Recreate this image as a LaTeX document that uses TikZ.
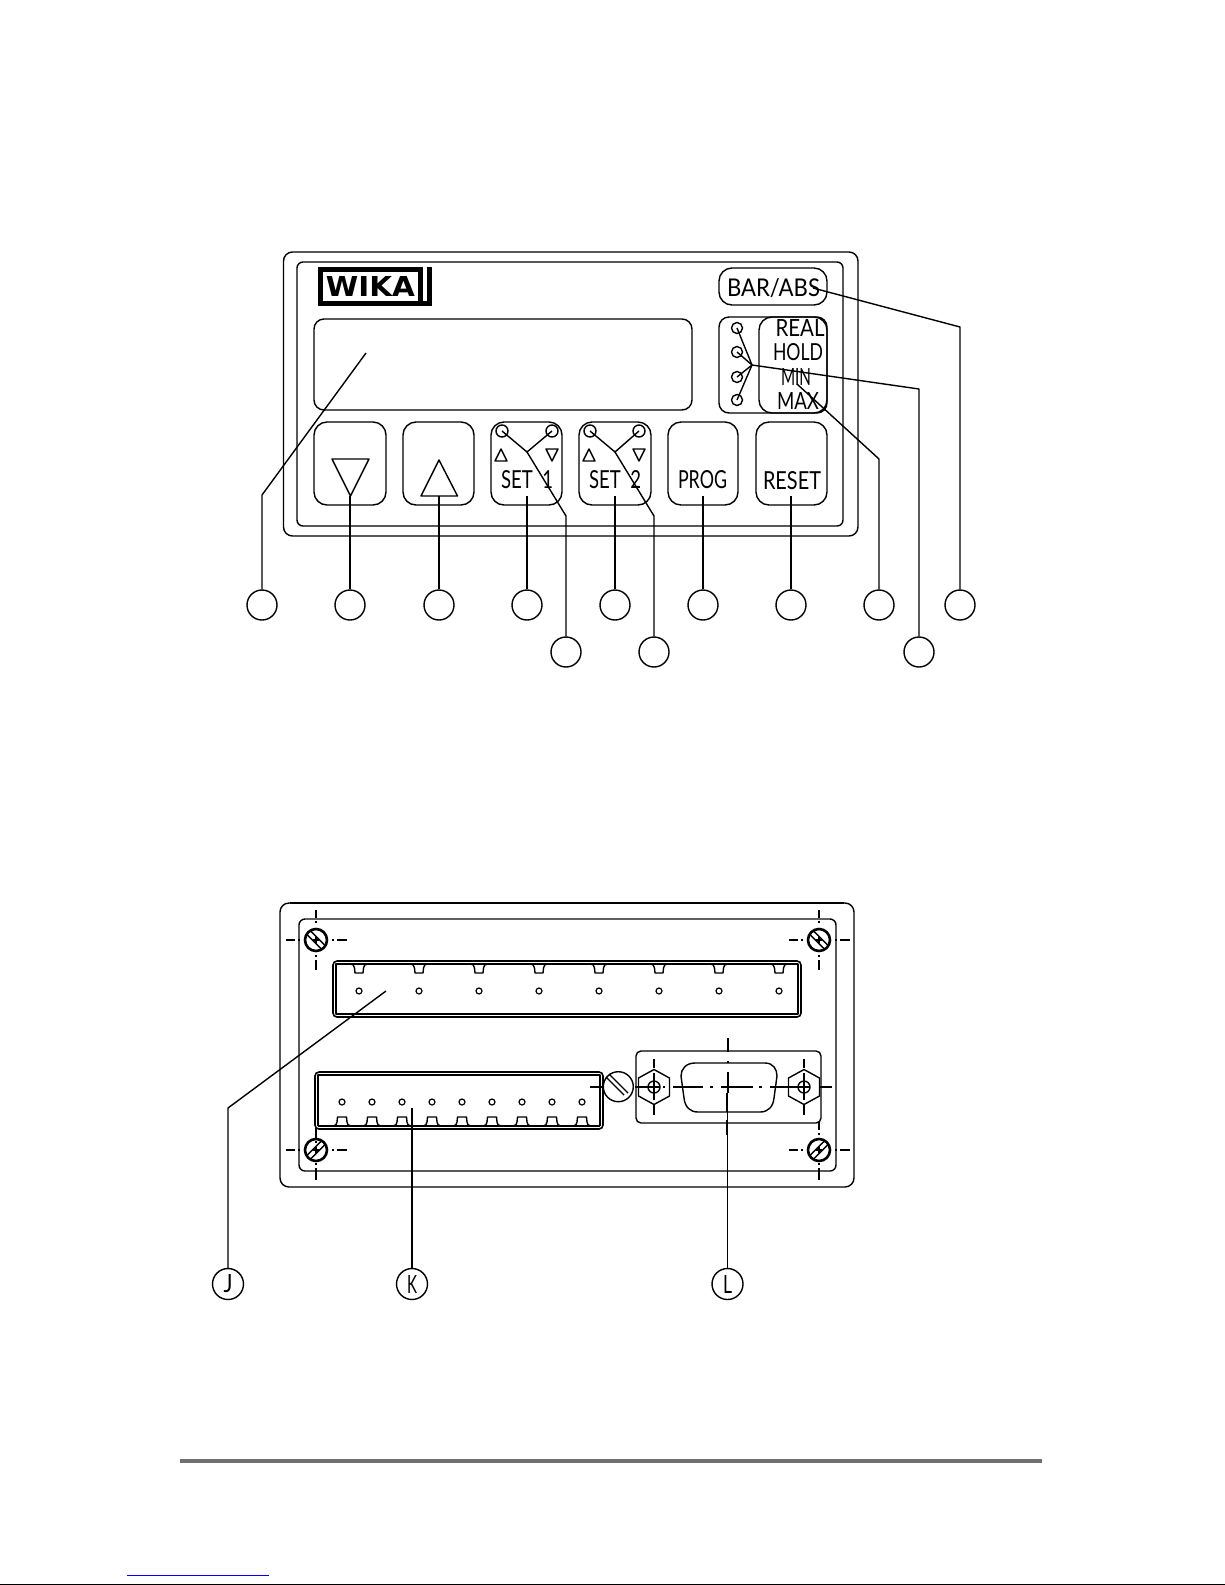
\documentclass[tikz,border=0pt]{standalone}
\usepackage{graphicx}
\usepackage{fontspec}
\setmainfont{Lato}
\newfontfamily\logofont{DejaVu Sans}
\definecolor{barg}{HTML}{707070}
\definecolor{topg}{HTML}{606060}
\tikzset{
  ln/.style={line width=1.4pt,line join=round},
  thin ln/.style={line width=1.1pt},
  thick ln/.style={line width=2.6pt},
  callout/.style={circle,draw,line width=1.4pt,minimum size=30pt,inner sep=0pt},
  lbl/.style={inner sep=0pt,outer sep=0pt},
  led/.style={circle,draw,line width=1.4pt,minimum size=11pt,inner sep=0pt},
  pin/.style={circle,draw,line width=1.2pt,minimum size=6pt,inner sep=0pt}
}
% name, x, y, width, height, text
\newcommand{\lab}[6]{\node[lbl] (#1) at (#2,#3) {\resizebox{#4pt}{#5pt}{#6}};}
% screw: x, y, slot sign, top-dash y1, y2, bottom-dash y1, y2
\newcommand{\screwmark}[7]{%
  \draw[thick ln] (#1,#2) circle (11);
  \draw[ln] (#1-8-1.8,#2-#3*8+#3*1.8) -- (#1+8-1.8,#2+#3*8+#3*1.8);
  \draw[ln] (#1-8+1.8,#2-#3*8-#3*1.8) -- (#1+8+1.8,#2+#3*8-#3*1.8);
  \draw[thin ln] (#1-30,#2) -- (#1-21,#2) (#1-18,#2) -- (#1-16,#2) (#1-3,#2) -- (#1+3,#2) (#1+16,#2) -- (#1+18,#2) (#1+21,#2) -- (#1+31,#2);
  \draw[thin ln] (#1,#4) -- (#1,#5) (#1,#5+3) -- (#1,#5+5) (#1,#2-3) -- (#1,#2+3) (#1,#6-5) -- (#1,#6-3) (#1,#6) -- (#1,#7);
}
% nut: x
\newcommand{\nutmark}[1]{%
  \draw[ln] (#1,1069.5) -- (#1+15.5,1078) -- (#1+15.5,1096) -- (#1,1104.5) -- (#1-15.5,1096) -- (#1-15.5,1078) -- cycle;
  \draw[ln] (#1,1087) circle (6);
  \draw[thin ln] (#1,1059) -- (#1,1068) (#1,1073) -- (#1,1100) (#1,1105) -- (#1,1115);
}
\begin{document}
\begin{tikzpicture}[x=1pt,y=-1pt]
\useasboundingbox (0,0) rectangle (1225,1585);
\fill[white] (0,0) rectangle (1225,1585);

%% ---------- front panel ----------
\draw[ln,rounded corners=9pt] (283.5,252) rectangle (858,536);
\draw[ln,rounded corners=6pt] (297,262) rectangle (843,526);
% logo
\fill[black] (318,267) rectangle (423,272);
\fill[black] (318,267) rectangle (323,306);
\fill[black] (318,301) rectangle (432,306);
\fill[black] (418,267) rectangle (423,301);
\fill[black] (427,267) rectangle (432,306);
\lab{wika}{370.5}{286}{89}{20}{\logofont\bfseries WIKA}
% display
\draw[ln,rounded corners=10pt] (314,319) rectangle (692,410);
% buttons
\draw[ln,rounded corners=13pt] (314,422) rectangle (386,505);
\draw[ln,rounded corners=13pt] (403,422) rectangle (474,505);
\draw[ln,rounded corners=13pt] (491,422) rectangle (562,505);
\draw[ln,rounded corners=13pt] (579,422) rectangle (651,505);
\draw[ln,rounded corners=13pt] (668,422) rectangle (738,505);
\draw[ln,rounded corners=13pt] (756,422) rectangle (827,505);
\draw[ln,rounded corners=13pt] (719,268) rectangle (827,305);
\draw[ln,rounded corners=10pt] (719,317) rectangle (827,413);
\draw[ln,rounded corners=13pt] (759,317) rectangle (827,413);
% arrows
\draw[ln] (332,459) -- (369,459) -- (350.5,496) -- cycle;
\draw[ln] (439,460) -- (457.5,496) -- (421,496) -- cycle;
\draw[ln] (501,449) -- (507,461) -- (495,461) -- cycle;
\draw[ln] (546,449) -- (558,449) -- (552,461) -- cycle;
\draw[ln] (589,449) -- (595,461) -- (583,461) -- cycle;
\draw[ln] (633,449) -- (645,449) -- (639,461) -- cycle;
% labels
\lab{set1}{527}{479.5}{52}{18}{SET\ \ 1}
\lab{set2}{615}{479.5}{52}{18}{SET\ \ 2}
\lab{prog}{702.5}{480}{49}{18}{PROG}
\lab{reset}{792}{481}{58}{18}{RESET}
\lab{barabs}{773.5}{288}{93}{18}{BAR/ABS}
\lab{real}{800}{328}{49}{17}{REAL}
\lab{hold}{798}{352}{50}{17}{HOLD}
\lab{minl}{796}{377}{30}{17}{MIN}
\lab{maxl}{798}{401}{42}{17}{MAX}
% indicator LEDs
\node[led] (l1) at (737,328) {};
\node[led] (l2) at (737,352) {};
\node[led] (l3) at (737,377) {};
\node[led] (l4) at (737,400) {};
\node[led,minimum size=12pt] (s1a) at (502,431) {};
\node[led,minimum size=12pt] (s1b) at (552,431) {};
\node[led,minimum size=12pt] (s2a) at (590,431) {};
\node[led,minimum size=12pt] (s2b) at (639,431) {};
% callouts
\node[callout] (c1) at (262,605) {};
\node[callout] (c2) at (350,605) {};
\node[callout] (c3) at (439,605) {};
\node[callout] (c4) at (527,605) {};
\node[callout] (c5) at (615,605) {};
\node[callout] (c6) at (703,605) {};
\node[callout] (c7) at (791,605) {};
\node[callout] (c8) at (879,605) {};
\node[callout] (c9) at (960,605) {};
\node[callout] (c10) at (566,652) {};
\node[callout] (c11) at (654,652) {};
\node[callout] (c12) at (919,652) {};
% leader points
\coordinate (d0) at (366,353);
\coordinate (d1) at (262,495);
\coordinate (a1) at (350,496);
\coordinate (a2) at (439,496);
\coordinate (a3) at (527,496);
\coordinate (a4) at (615,496);
\coordinate (a5) at (703,496);
\coordinate (a6) at (791,496);
\coordinate (y1) at (527,452);
\coordinate (y1k) at (566,516);
\coordinate (y2) at (615,452);
\coordinate (y2k) at (654,516);
\coordinate (ly) at (752,365);
\coordinate (lyk) at (919,389);
\coordinate (m0) at (797,384);
\coordinate (m1) at (879,459);
\coordinate (b0) at (813,288);
\coordinate (b1) at (960,327);
% leaders
\draw[ln] (d0) -- (d1) -- (c1);
\draw[ln] (a1) -- (c2);
\draw[ln] (a2) -- (c3);
\draw[ln] (a3) -- (c4);
\draw[ln] (a4) -- (c5);
\draw[ln] (a5) -- (c6);
\draw[ln] (a6) -- (c7);
\draw[ln] (s1a.center) -- (y1) -- (y1k) -- (c10);
\draw[ln] (s1b.center) -- (y1);
\draw[ln] (s2a.center) -- (y2) -- (y2k) -- (c11);
\draw[ln] (s2b.center) -- (y2);
\draw[ln] (ly) -- (lyk) -- (c12);
\draw[ln] (l1.center) -- (ly);
\draw[ln] (l2.center) -- (ly);
\draw[ln] (l3.center) -- (ly);
\draw[ln] (l4.center) -- (ly);
\draw[ln] (m0) -- (m1) -- (c8);
\draw[ln] (b0) -- (b1) -- (c9);

%% ---------- rear panel ----------
\draw[ln,rounded corners=9pt] (280,903) rectangle (854,1187);
\draw[line width=2.4pt] (290,903) -- (844,903);
\draw[ln,rounded corners=6pt] (299,919) rectangle (836,1171);
\draw[line width=2pt,topg] (305,919) -- (830,919);
\screwmark{316}{940}{1}{910}{918}{960}{970}
\screwmark{819}{940}{1}{910}{918}{960}{970}
\screwmark{316}{1150}{-1}{1128}{1138}{1168}{1180}
\screwmark{819}{1150}{-1}{1122}{1130}{1168}{1180}
% upper connector
\draw[line width=1.6pt,rounded corners=4pt] (333,961) rectangle (801,1017);
\draw[ln] (336,964) -- (798,964) -- (798,1014) -- (336,1014) -- cycle;
\foreach \c in {359,419,479,539,599,659,719,779}{
  \draw[ln] (\c-9,964) .. controls (\c-6,964) and (\c-5,965) .. (\c-4.5,968) -- (\c-4,973) -- (\c+4,973) -- (\c+4.5,968) .. controls (\c+5,965) and (\c+6,964) .. (\c+9,964);
  \node[pin] (up\c) at (\c,991) {};
}
% lower connector
\draw[line width=1.6pt,rounded corners=4pt] (315,1072) rectangle (603,1129);
\draw[ln] (318,1126) -- (318,1075) -- (600,1075) -- (600,1126);
\draw[ln] (318,1126) -- (600,1126);
\foreach \c in {342,372,402,432,462,492,522,552,582}{
  \draw[ln] (\c-9,1126) .. controls (\c-6,1126) and (\c-5.5,1124) .. (\c-5,1122) -- (\c-4.5,1117) -- (\c+4.5,1117) -- (\c+5,1122) .. controls (\c+5.5,1124) and (\c+6,1126) .. (\c+9,1126);
  \node[pin] (lo\c) at (\c,1102) {};
}
% slotted screw
\draw[ln] (618.3,1086.7) circle (15);
\draw[ln] (606,1077) -- (624,1095);
\draw[ln] (609,1074) -- (628,1093);
% D-sub
\draw[ln,rounded corners=5pt] (636,1051) rectangle (821,1123);
\nutmark{654}
\nutmark{804}
\draw[ln] (695,1063) -- (765,1063) .. controls (773,1063) and (777,1069) .. (777,1076) -- (774,1098) .. controls (773,1107) and (768,1112) .. (760,1112) -- (698,1112) .. controls (690,1112) and (685,1107) .. (684,1098) -- (681,1076) .. controls (681,1069) and (686,1063) .. (695,1063) -- cycle;
% centre lines
\draw[thin ln] (590,1087) -- (603,1087) (635,1087) -- (660,1087) (663,1087) -- (665,1087) (673,1087) -- (703,1087) (710,1087) -- (713,1087) (721,1087) -- (753,1087) (759,1087) -- (762,1087) (770,1087) -- (810,1087) (820,1087) -- (832,1087);
\draw[thin ln] (728,1038) -- (728,1052) (728,1061) -- (728,1063) (728,1072) -- (728,1093);
\draw[thick ln] (727,1093) -- (727,1112) (727,1120) -- (727,1135);
% rear callouts
\node[callout,minimum size=31pt] (cj) at (228,1284) {\resizebox{9pt}{18pt}{J}};
\node[callout,minimum size=31pt] (ck) at (412,1284) {\resizebox{10pt}{18pt}{K}};
\node[callout,minimum size=31pt] (cl) at (727.5,1284) {\resizebox{9pt}{18pt}{L}};
\coordinate (j0) at (386,991);
\coordinate (j1) at (228,1108);
\coordinate (k0) at (412,1108);
\coordinate (l0) at (727.5,1093);
\draw[ln] (j0) -- (j1) -- (cj);
\draw[ln] (k0) -- (ck);
\draw[ln] (l0) -- (cl);

%% ---------- page furniture ----------
\fill[barg] (180,1459) rectangle (1042,1463);
\draw[line width=1.1pt,blue] (127,1575.3) -- (269,1575.3);
\draw[line width=1.2pt,black] (0,1584.2) -- (1225,1584.2);
\end{tikzpicture}
\end{document}
